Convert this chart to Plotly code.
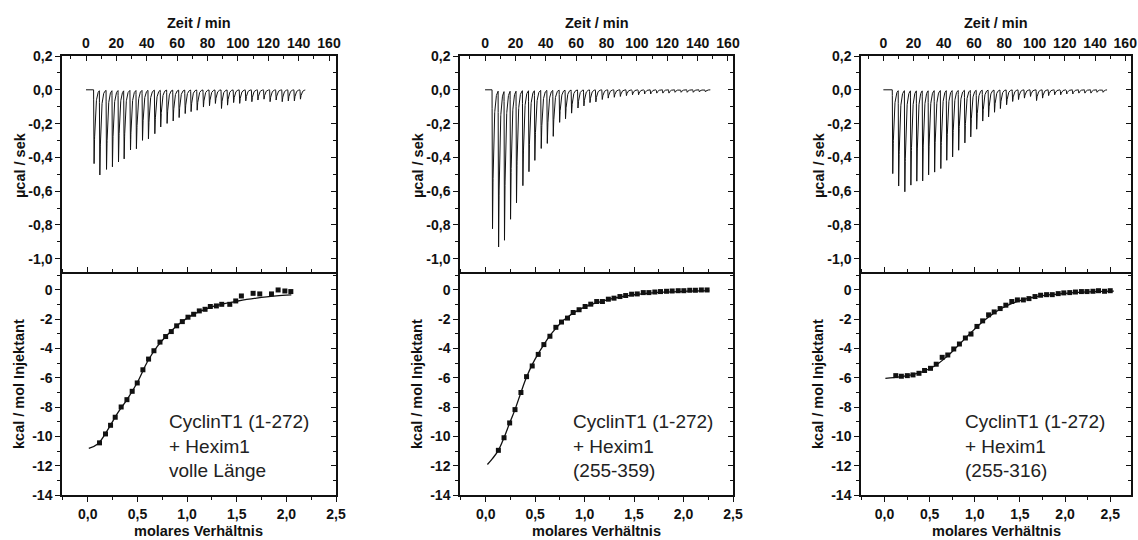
import numpy as np
import plotly.graph_objects as go

W, H = 1138, 540

# ---------------- raw heat traces (injection time in min, peak in µcal/s) -----------
inj_t_1 = [5.0, 8.8, 13.2, 17.1, 21.1, 24.8, 29.0, 32.9, 36.9, 40.8, 45.0, 48.9, 53.1,
           57.1, 61.0, 65.0, 68.9, 72.9, 77.0, 81.0, 84.9, 88.9, 92.9, 96.9, 100.9,
           104.9, 108.9, 112.9, 116.9, 120.9, 124.9, 128.9, 132.9, 136.9, 140.9]
inj_h_1 = [-0.448, -0.513, -0.481, -0.452, -0.424, -0.415, -0.363, -0.346, -0.297,
           -0.295, -0.265, -0.218, -0.198, -0.183, -0.167, -0.143, -0.128, -0.120,
           -0.104, -0.096, -0.080, -0.110, -0.090, -0.075, -0.080, -0.065, -0.070,
           -0.060, -0.055, -0.070, -0.060, -0.070, -0.065, -0.065, -0.055]
t_end_1 = 144.4

inj_t_2 = [4.6, 8.6, 12.5, 16.5, 20.4, 24.6, 28.6, 32.5, 36.7, 40.7, 44.6, 48.8, 52.7,
           56.7, 60.9, 64.8, 68.8, 72.7, 76.9, 80.8, 84.8, 88.8, 92.8, 96.8, 100.8,
           104.8, 108.8, 112.8, 116.8, 120.8, 124.8, 128.8, 132.8, 136.8, 140.8, 144.8]
inj_h_2 = [-0.843, -0.948, -0.883, -0.760, -0.680, -0.578, -0.493, -0.414, -0.345,
           -0.315, -0.280, -0.196, -0.170, -0.137, -0.107, -0.097, -0.077, -0.071,
           -0.057, -0.050, -0.045, -0.040, -0.035, -0.030, -0.030, -0.025, -0.025,
           -0.020, -0.020, -0.020, -0.015, -0.015, -0.015, -0.015, -0.012, -0.012]
t_end_2 = 148.4

inj_t_3 = [5.9, 9.8, 13.9, 17.9, 21.8, 25.7, 29.6, 33.6, 37.7, 41.6, 45.5, 49.5, 53.6,
           57.5, 61.4, 65.4, 69.3, 73.2, 77.1, 81.2, 85.2, 89.1, 93.0, 97.0, 101.0,
           105.0, 109.0, 113.0, 117.0, 121.0, 125.0, 129.0, 133.0, 137.0, 141.0, 145.0]
inj_h_3 = [-0.496, -0.580, -0.600, -0.560, -0.550, -0.535, -0.512, -0.496, -0.463,
           -0.424, -0.394, -0.355, -0.320, -0.276, -0.237, -0.188, -0.159, -0.135,
           -0.110, -0.090, -0.070, -0.057, -0.050, -0.040, -0.065, -0.050, -0.035,
           -0.030, -0.030, -0.025, -0.025, -0.020, -0.020, -0.020, -0.015, -0.015]
t_end_3 = 148.0

# ---------------- integrated heats (molar ratio, kcal/mol injectant) ---------------
ratio_1 = [0.118, 0.178, 0.229, 0.276, 0.336, 0.394, 0.447, 0.498, 0.555, 0.612, 0.666,
           0.727, 0.784, 0.841, 0.895, 0.952, 1.009, 1.066, 1.123, 1.181, 1.234, 1.295,
           1.349, 1.430, 1.490, 1.547, 1.665, 1.732, 1.850, 1.917, 1.985, 2.045]
heat_1 = [-10.44, -9.83, -9.24, -8.69, -7.99, -7.49, -6.92, -6.35, -5.45, -4.72, -4.15,
          -3.56, -3.18, -2.84, -2.45, -2.16, -1.86, -1.66, -1.43, -1.32, -1.13, -1.09,
          -0.98, -0.98, -0.75, -0.41, -0.23, -0.27, -0.27, 0.00, -0.07, -0.11]
fit_x_1 = [0.01, 0.1, 0.2, 0.3, 0.4, 0.5, 0.6, 0.7, 0.8, 0.9, 1.0, 1.1, 1.2, 1.3, 1.4,
           1.5, 1.6, 1.7, 1.8, 1.9, 2.05]
fit_y_1 = [-10.82, -10.52, -9.55, -8.41, -7.43, -6.30, -4.90, -3.85, -3.07, -2.43,
           -1.92, -1.55, -1.27, -1.06, -0.90, -0.77, -0.65, -0.55, -0.47, -0.41, -0.34]

ratio_2 = [0.128, 0.185, 0.242, 0.296, 0.356, 0.413, 0.470, 0.531, 0.588, 0.649, 0.709,
           0.766, 0.827, 0.884, 0.944, 1.005, 1.062, 1.122, 1.180, 1.240, 1.297, 1.357,
           1.415, 1.475, 1.532, 1.593, 1.650, 1.710, 1.767, 1.828, 1.885, 1.946, 2.003,
           2.063, 2.120, 2.180, 2.238]
heat_2 = [-10.95, -10.09, -9.08, -8.17, -7.00, -5.92, -5.19, -4.40, -3.73, -3.16, -2.55,
          -2.19, -1.92, -1.54, -1.35, -1.13, -0.97, -0.79, -0.79, -0.63, -0.56, -0.45,
          -0.38, -0.29, -0.27, -0.18, -0.18, -0.14, -0.11, -0.09, -0.07, -0.05, -0.05,
          -0.02, -0.02, 0.00, 0.00]
fit_x_2 = [0.017, 0.07, 0.128, 0.185, 0.242, 0.296, 0.356, 0.413, 0.47, 0.531, 0.588,
           0.649, 0.709, 0.766, 0.827, 0.884, 0.944, 1.005, 1.1, 1.2, 1.3, 1.4, 1.5, 1.6,
           1.8, 2.0, 2.26]
fit_y_2 = [-11.92, -11.50, -10.95, -10.09, -9.08, -8.17, -7.00, -5.95, -5.10, -4.35,
           -3.73, -3.12, -2.62, -2.20, -1.86, -1.58, -1.36, -1.16, -0.92, -0.72, -0.56,
           -0.43, -0.33, -0.25, -0.15, -0.09, -0.05]

ratio_3 = [0.125, 0.187, 0.253, 0.316, 0.382, 0.444, 0.510, 0.573, 0.639, 0.701, 0.767,
           0.830, 0.896, 0.958, 1.024, 1.087, 1.153, 1.215, 1.281, 1.344, 1.410, 1.472,
           1.538, 1.600, 1.667, 1.729, 1.795, 1.858, 1.924, 1.986, 2.052, 2.115, 2.181,
           2.243, 2.309, 2.370, 2.437, 2.500]
heat_3 = [-5.85, -5.89, -5.85, -5.80, -5.69, -5.50, -5.35, -5.07, -4.60, -4.44, -4.03,
          -3.69, -3.28, -3.01, -2.49, -2.11, -1.70, -1.50, -1.27, -1.04, -0.79, -0.68,
          -0.68, -0.59, -0.45, -0.36, -0.32, -0.32, -0.25, -0.20, -0.18, -0.14, -0.11,
          -0.11, -0.09, -0.05, -0.09, -0.05]
fit_x_3 = [0.01, 0.1, 0.2, 0.3, 0.4, 0.5, 0.6, 0.7, 0.8, 0.9, 1.0, 1.1, 1.2, 1.3, 1.4,
           1.5, 1.6, 1.7, 1.8, 2.0, 2.2, 2.54]
fit_y_3 = [-6.03, -5.98, -5.90, -5.80, -5.63, -5.38, -5.00, -4.50, -3.90, -3.27, -2.66,
           -2.10, -1.63, -1.25, -0.95, -0.73, -0.56, -0.44, -0.35, -0.23, -0.15, -0.08]

labels = ["CyclinT1 (1-272)<br>+ Hexim1<br>volle Länge",
          "CyclinT1 (1-272)<br>+ Hexim1<br>(255-359)",
          "CyclinT1 (1-272)<br>+ Hexim1<br>(255-316)"]

# ---------------- tick labels --------------------------------------------------------
time_ticks = [0, 20, 40, 60, 80, 100, 120, 140, 160]
time_text = ["0", "20", "40", "60", "80", "100", "120", "140", "160"]
power_ticks = [0.2, 0.0, -0.2, -0.4, -0.6, -0.8, -1.0]
power_text = ["0,2", "0,0", "-0,2", "-0,4", "-0,6", "-0,8", "-1,0"]
ratio_ticks = [0.0, 0.5, 1.0, 1.5, 2.0, 2.5]
ratio_text = ["0,0", "0,5", "1,0", "1,5", "2,0", "2,5"]
heat_ticks = [0, -2, -4, -6, -8, -10, -12, -14]
heat_text = ["0", "-2", "-4", "-6", "-8", "-10", "-12", "-14"]

# ---------------- geometry (pixels) -------------------------------------------------
panel_px = [(62, 336), (460, 733), (861, 1131)]
time_ranges = [[-15.8, 164.6], [-16.5, 163.3], [-14.8, 163.8]]
ratio_ranges = [[-0.26, 2.5], [-0.26, 2.5], [-0.26, 2.73]]
label_left_px = [167, 571, 963]
top_px = (56, 274)
bot_px = (274, 495)

INK = "#111111"
TICKFONT = dict(family="Arial", size=14, color=INK)
TITLEFONT = dict(family="Arial", size=14.5, color=INK)


def bold(items):
    return [f"<b>{s}</b>" for s in items]


def fx(p):
    return p / W


def fy(p):
    return 1 - p / H


def thermogram(times, heights, t_end):
    t = np.arange(0.0, t_end, 0.04)
    s = np.zeros_like(t)
    for t0, h in zip(times, heights):
        dt = t - t0
        fall = (dt >= 0) & (dt < 0.3)
        s[fall] += h * dt[fall] / 0.3
        rise = dt >= 0.3
        s[rise] += h * np.exp(-(dt[rise] - 0.3) / 0.8)
    return t, s


def aname(letter, i):
    return f"{letter}axis" + ("" if i == 1 else str(i))


def aref(letter, i):
    return letter + ("" if i == 1 else str(i))


base = dict(showline=True, linecolor=INK, linewidth=1.5, showgrid=False,
            zeroline=False, tickcolor=INK, tickwidth=1.2, tickfont=TICKFONT,
            fixedrange=True, automargin=False, ticklabeloverflow="allow")
side = dict(showticklabels=False, ticks="inside", ticklen=5, tickcolor=INK,
            tickwidth=1.2, showgrid=False, zeroline=False, showline=False,
            fixedrange=True, automargin=False)

raw = [(inj_t_1, inj_h_1, t_end_1), (inj_t_2, inj_h_2, t_end_2),
       (inj_t_3, inj_h_3, t_end_3)]
iso = [(ratio_1, heat_1, fit_x_1, fit_y_1), (ratio_2, heat_2, fit_x_2, fit_y_2),
       (ratio_3, heat_3, fit_x_3, fit_y_3)]

fig = go.Figure()
layout = {}
annotations = []

for p in range(3):
    xt, xb = 2 * p + 1, 2 * p + 2
    yt, yb, ytr, ybr = 4 * p + 1, 4 * p + 2, 4 * p + 3, 4 * p + 4
    x0, x1 = panel_px[p]
    dom_x = [fx(x0), fx(x1)]
    dom_top = [fy(top_px[1]), fy(top_px[0])]
    dom_bot = [fy(bot_px[1]), fy(bot_px[0])]

    # time axis on top of the raw-data plot
    layout[aname("x", xt)] = dict(base, domain=dom_x, anchor=aref("y", yt), side="top",
                                  range=time_ranges[p], tickmode="array",
                                  tickvals=time_ticks, ticktext=bold(time_text),
                                  ticks="inside", ticklen=5, mirror=False,
                                  ticklabelstandoff=1,
                                  minor=dict(tick0=0, dtick=10, ticks="inside",
                                             ticklen=3, tickcolor=INK))
    power_range = [-1.09, 0.2]
    layout[aname("y", yt)] = dict(base, domain=dom_top, anchor=aref("x", xt),
                                  range=power_range, tickmode="array",
                                  tickvals=power_ticks, ticktext=bold(power_text),
                                  ticks="outside", ticklen=5, mirror=True,
                                  minor=dict(tick0=0, dtick=0.1, ticks="outside",
                                             ticklen=3, tickcolor=INK))
    layout[aname("y", ytr)] = dict(side, overlaying=aref("y", yt), side="right",
                                   anchor=aref("x", xt), range=power_range,
                                   tickmode="array", tickvals=power_ticks,
                                   minor=dict(tick0=0, dtick=0.1, ticks="inside",
                                              ticklen=3, tickcolor=INK))

    # molar-ratio axis below the isotherm
    layout[aname("x", xb)] = dict(base, domain=dom_x, anchor=aref("y", yb), side="bottom",
                                  range=ratio_ranges[p], tickmode="array",
                                  tickvals=ratio_ticks, ticktext=bold(ratio_text),
                                  ticks="outside", ticklen=5, mirror="ticks",
                                  ticklabelstandoff=0,
                                  minor=dict(tick0=0, dtick=0.25, ticks="outside",
                                             ticklen=3, tickcolor=INK))
    heat_range = [-14, 1.09]
    layout[aname("y", yb)] = dict(base, domain=dom_bot, anchor=aref("x", xb),
                                  range=heat_range, tickmode="array",
                                  tickvals=heat_ticks, ticktext=bold(heat_text),
                                  ticks="outside", ticklen=5, mirror=True,
                                  minor=dict(tick0=0, dtick=1, ticks="outside",
                                             ticklen=3, tickcolor=INK))
    layout[aname("y", ybr)] = dict(side, overlaying=aref("y", yb), side="right",
                                   anchor=aref("x", xb), range=heat_range,
                                   tickmode="array", tickvals=heat_ticks,
                                   minor=dict(tick0=0, dtick=1, ticks="inside",
                                              ticklen=3, tickcolor=INK))

    # raw power trace
    times, heights, t_end = raw[p]
    t, s = thermogram(times, heights, t_end)
    fig.add_trace(go.Scatter(x=t, y=s, mode="lines", line=dict(color=INK, width=1),
                             xaxis=aref("x", xt), yaxis=aref("y", yt),
                             showlegend=False, hoverinfo="skip"))

    # integrated heats and fitted binding curve
    rx, hy, fxs, fys = iso[p]
    fig.add_trace(go.Scatter(x=fxs, y=fys, mode="lines", line_shape="spline",
                             line=dict(color=INK, width=1.3),
                             xaxis=aref("x", xb), yaxis=aref("y", yb),
                             showlegend=False, hoverinfo="skip"))
    fig.add_trace(go.Scatter(x=rx, y=hy, mode="markers",
                             marker=dict(symbol="square", size=5, color=INK),
                             xaxis=aref("x", xb), yaxis=aref("y", yb),
                             showlegend=False))

    # carriers for the right-hand tick axes
    for ya in (ytr, ybr):
        xa = xt if ya == ytr else xb
        fig.add_trace(go.Scatter(x=[None], y=[None], mode="lines",
                                 xaxis=aref("x", xa), yaxis=aref("y", ya),
                                 showlegend=False, hoverinfo="skip"))

    cx = (x0 + x1) / 2
    annotations += [
        dict(text="<b>Zeit / min</b>", x=fx(cx), y=fy(23), xref="paper", yref="paper",
             showarrow=False, font=TITLEFONT, xanchor="center", yanchor="middle"),
        dict(text="<b>molares Verhältnis</b>", x=fx(cx), y=fy(531), xref="paper",
             yref="paper", showarrow=False, font=TITLEFONT, xanchor="center",
             yanchor="middle"),
        dict(text="<b>µcal / sek</b>", x=fx(x0 - 42), y=fy(165), xref="paper",
             yref="paper", showarrow=False, font=TITLEFONT, textangle=-90,
             xanchor="center", yanchor="middle"),
        dict(text="<b>kcal / mol Injektant</b>", x=fx(x0 - 43), y=fy(384),
             xref="paper", yref="paper", showarrow=False, font=TITLEFONT,
             textangle=-90, xanchor="center", yanchor="middle"),
        dict(text=labels[p], x=fx(label_left_px[p]), y=fy(446), xref="paper",
             yref="paper", showarrow=False, align="left", xanchor="left",
             yanchor="middle", font=dict(family="Arial", size=19, color="#222222")),
    ]

fig.update_layout(
    template="none",
    width=W, height=H, margin=dict(l=0, r=0, t=0, b=0, autoexpand=False),
    paper_bgcolor="white", plot_bgcolor="white", showlegend=False,
    annotations=annotations, **layout,
)

fig.write_html("out.html")
